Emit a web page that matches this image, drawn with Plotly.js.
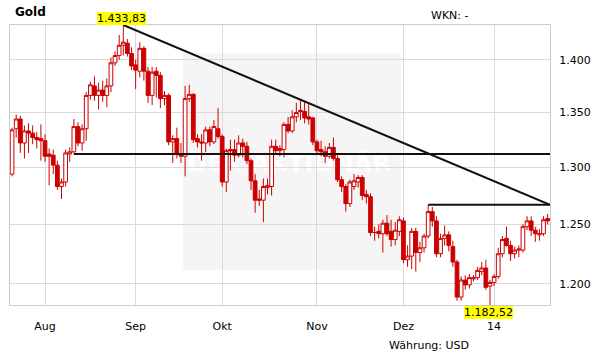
<!DOCTYPE html>
<html>
<head>
<meta charset="utf-8">
<script src="https://cdn.plot.ly/plotly-3.0.1.min.js"></script>
<style>html,body{margin:0;padding:0;background:#fff;}#chart{width:611px;height:364px;}</style>
</head>
<body>
<div id="chart"></div>
<script>
// Trading days (x categories)
const dates = [
"2013-07-22","2013-07-23","2013-07-24","2013-07-25","2013-07-26","2013-07-29","2013-07-30","2013-07-31",
"2013-08-01","2013-08-02","2013-08-05","2013-08-06","2013-08-07","2013-08-08","2013-08-09","2013-08-12","2013-08-13","2013-08-14","2013-08-15","2013-08-16","2013-08-19","2013-08-20","2013-08-21","2013-08-22","2013-08-23","2013-08-26","2013-08-27","2013-08-28","2013-08-29","2013-08-30",
"2013-09-02","2013-09-03","2013-09-04","2013-09-05","2013-09-06","2013-09-09","2013-09-10","2013-09-11","2013-09-12","2013-09-13","2013-09-16","2013-09-17","2013-09-18","2013-09-19","2013-09-20","2013-09-23","2013-09-24","2013-09-25","2013-09-26","2013-09-27","2013-09-30",
"2013-10-01","2013-10-02","2013-10-03","2013-10-04","2013-10-07","2013-10-08","2013-10-09","2013-10-10","2013-10-11","2013-10-14","2013-10-15","2013-10-16","2013-10-17","2013-10-18","2013-10-21","2013-10-22","2013-10-23","2013-10-24","2013-10-25","2013-10-28","2013-10-29","2013-10-30","2013-10-31",
"2013-11-01","2013-11-04","2013-11-05","2013-11-06","2013-11-07","2013-11-08","2013-11-11","2013-11-12","2013-11-13","2013-11-14","2013-11-15","2013-11-18","2013-11-19","2013-11-20","2013-11-21","2013-11-22","2013-11-25","2013-11-26","2013-11-27","2013-11-28","2013-11-29",
"2013-12-02","2013-12-03","2013-12-04","2013-12-05","2013-12-06","2013-12-09","2013-12-10","2013-12-11","2013-12-12","2013-12-13","2013-12-16","2013-12-17","2013-12-18","2013-12-19","2013-12-20","2013-12-23","2013-12-24","2013-12-25","2013-12-26","2013-12-27","2013-12-30","2013-12-31",
"2014-01-01","2014-01-02","2014-01-03","2014-01-06","2014-01-07","2014-01-08","2014-01-09","2014-01-10","2014-01-13","2014-01-14","2014-01-15","2014-01-16","2014-01-17","2014-01-20"
];

const openP = [1294,1335,1344,1322,1333,1331,1327,1326,
1324,1312,1311,1302,1283,1287,1312,1314,1337,1322,1335,1366,1375,1366,1371,1366,1375,1397,1404,1414,1416,1406,
1395,1389,1411,1389,1366,1389,1385,1363,1366,1323,1326,1312,1310,1363,1367,1326,1323,1322,1334,1323,1335,
1328,1287,1316,1316,1311,1322,1319,1306,1288,1272,1271,1282,1283,1319,1315,1316,1339,1333,1346,1352,1351,1346,1345,
1323,1316,1314,1310,1318,1308,1289,1283,1268,1283,1287,1291,1276,1274,1243,1244,1242,1251,1244,1237,1244,
1253,1220,1223,1244,1226,1230,1240,1261,1253,1225,1238,1241,1231,1218,1189,1203,1199,1204,1205,1210,1213,1198,
1201,1206,1225,1238,1232,1225,1228,1228,1248,1253,1245,1241,1242,1255];

const highP = [1336,1348,1347,1338,1340,1338,1332,1339,
1330,1317,1316,1306,1290,1316,1318,1344,1341,1339,1369,1379,1384,1378,1380,1382,1402,1408,1424,1433.83,1420,1412,
1400,1417,1413,1393,1393,1393,1388,1370,1368,1329,1336,1322,1375,1376,1368,1330,1330,1337,1337,1343,1354,
1330,1317,1325,1325,1329,1326,1323,1308,1294,1280,1290,1290,1325,1325,1320,1341,1346,1352,1359,1362,1360,1359,1346,
1325,1324,1319,1322,1327,1311,1292,1285,1289,1294,1293,1293,1280,1277,1248,1250,1254,1258,1254,1252,1257,
1256,1232,1247,1247,1235,1242,1267,1265,1257,1242,1249,1244,1236,1220,1206,1207,1208,1207,1214,1218,1220,1203,
1208,1230,1240,1248,1236,1231,1232,1250,1257,1257,1248,1246,1257,1259];

const lowP = [1292,1327,1313,1308,1313,1321,1317,1306,
1305,1284,1294,1280,1272,1283,1305,1313,1319,1315,1324,1362,1361,1353,1360,1355,1369,1394,1400,1404,1403,1390,
1372,1383,1380,1359,1357,1364,1354,1357,1320,1304,1308,1304,1292,1360,1322,1318,1306,1314,1319,1321,1326,
1283,1278,1297,1305,1309,1309,1303,1280,1260,1266,1252,1276,1275,1312,1310,1309,1331,1331,1341,1343,1340,1339,1320,
1312,1310,1304,1308,1306,1287,1278,1261,1265,1280,1282,1271,1268,1240,1236,1238,1226,1240,1231,1232,1240,
1217,1214,1212,1210,1218,1226,1238,1248,1222,1222,1232,1227,1214,1186,1186,1195,1196,1202,1203,1207,1195,1182.52,
1198,1204,1222,1231,1219,1221,1222,1226,1245,1240,1235,1236,1240,1250];

const closeP = [1334,1344,1322,1333,1331,1327,1325,1324,
1310,1310,1302,1283,1287,1313,1314,1337,1322,1335,1366,1376,1366,1371,1366,1375,1397,1404,1414,1417,1406,1394,
1390,1411,1389,1366,1388,1385,1363,1366,1323,1326,1312,1310,1363,1367,1325,1323,1322,1334,1323,1337,1328,
1287,1315,1315,1311,1322,1319,1306,1288,1271,1271,1283,1284,1319,1315,1317,1339,1333,1346,1350,1351,1345,1344,1323,
1315,1314,1310,1318,1308,1289,1283,1268,1287,1288,1291,1275,1274,1243,1243,1242,1251,1242,1237,1245,1254,
1220,1223,1244,1226,1230,1240,1261,1253,1225,1238,1241,1232,1218,1189,1203,1199,1205,1205,1211,1213,1197,1201,
1206,1225,1237,1232,1225,1228,1229,1248,1253,1245,1242,1242,1254,1253];

const monthLabels = ["Aug","Sep","Okt","Nov","Dez","14"];
const supportLevel = 1312;        // long horizontal line
const supportStart = "2013-08-12";
const resistStart = "2013-12-10"; // short horizontal line from that day's high
const trendStart = "2013-08-28";  // descending trend line from that day's high
const yTicks = [1200,1250,1300,1350,1400];

const idx = dates.map((d, i) => i);
// first trading day of each month after the first
const tickIdx = [];
for (let i = 1; i < dates.length; i++) {
  if (dates[i].slice(0,7) !== dates[i-1].slice(0,7)) tickIdx.push(i);
}
const xMax = dates.length - 1 + 0.57;
const xMin = -0.5;

const hiVal = Math.max(...highP), loVal = Math.min(...lowP);
const hiIdx = highP.indexOf(hiVal), loIdx = lowP.indexOf(loVal);
const rIdx = dates.indexOf(resistStart);
const tIdx = dates.indexOf(trendStart);
const sIdx = dates.indexOf(supportStart);
const red = "#cc0000";
const FONT = "DejaVu Sans, Verdana, sans-serif";

const traces = [
  {
    type: "candlestick", x: idx, open: openP, high: highP, low: lowP, close: closeP,
    increasing: {line: {color: red, width: 1}, fillcolor: "#ffffff"},
    decreasing: {line: {color: red, width: 1}, fillcolor: red},
    whiskerwidth: 0, hoverinfo: "skip", showlegend: false
  },
  {type: "scatter", mode: "lines", x: [sIdx, xMax], y: [supportLevel, supportLevel],
   line: {color: "#111", width: 2}, hoverinfo: "skip", showlegend: false},
  {type: "scatter", mode: "lines", x: [rIdx, xMax], y: [highP[rIdx], highP[rIdx]],
   line: {color: "#111", width: 2}, hoverinfo: "skip", showlegend: false},
  {type: "scatter", mode: "lines", x: [tIdx, xMax], y: [highP[tIdx], highP[rIdx]],
   line: {color: "#111", width: 2}, hoverinfo: "skip", showlegend: false}
];

const wm = "<svg xmlns='http://www.w3.org/2000/svg' width='218' height='217' viewBox='0 0 218 217' preserveAspectRatio='none'>" +
  "<rect width='218' height='217' fill='#f5f5f5'/>" +
  "<text x='4' y='118' font-family='DejaVu Sans' font-weight='bold' font-size='21' fill='#ffffff' textLength='204' lengthAdjust='spacingAndGlyphs'>DER AKTIONÄR</text></svg>";

const layout = {
  width: 611, height: 364,
  margin: {l: 10, r: 61, t: 25, b: 59, pad: 0},
  paper_bgcolor: "#ffffff", plot_bgcolor: "#ffffff",
  separators: ",.",
  showlegend: false,
  boxgap: 0.1, boxgroupgap: 0,
  font: {family: FONT, size: 11, color: "#000"},
  xaxis: {
    type: "linear", range: [xMin, xMax], rangeslider: {visible: false},
    tickvals: tickIdx, ticktext: monthLabels,
    showgrid: true, gridcolor: "#dadada", gridwidth: 1,
    zeroline: false, showline: true, mirror: true, linecolor: "#cccccc", linewidth: 1,
    ticks: "", ticklabelstandoff: 11,
    tickfont: {family: FONT, size: 11, color: "#000"}, fixedrange: true
  },
  yaxis: {
    type: "log", side: "right",
    range: [Math.log10(loVal), Math.log10(hiVal)],
    tickvals: yTicks, tickformat: ",.0f",
    showgrid: true, gridcolor: "#dadada", gridwidth: 1,
    zeroline: false, showline: true, mirror: true, linecolor: "#cccccc", linewidth: 1,
    ticks: "", ticklabelstandoff: 6,
    tickfont: {family: FONT, size: 11, color: "#000"}, fixedrange: true
  },
  images: [{
    source: "data:image/svg+xml;charset=utf-8," + encodeURIComponent(wm),
    xref: "paper", yref: "paper", x: 0.3204, y: 0.9, sizex: 0.4037, sizey: 0.775,
    xanchor: "left", yanchor: "top", sizing: "stretch", layer: "below"
  }],
  annotations: [
    {xref: "paper", yref: "paper", x: 0.005, y: 1.0464, xanchor: "left", yanchor: "middle",
     text: "<b>Gold</b>", showarrow: false, font: {family: FONT, size: 12, color: "#000"}},
    {xref: "paper", yref: "paper", x: 0.776, y: 1.0357, xanchor: "left", yanchor: "middle",
     text: "WKN: -", showarrow: false, font: {family: FONT, size: 11, color: "#000"}},
    {xref: "paper", yref: "paper", x: 0.698, y: -0.1464, xanchor: "left", yanchor: "middle",
     text: "Währung: USD", showarrow: false, font: {family: FONT, size: 11, color: "#000"}},
    {xref: "x", yref: "paper", x: hiIdx, y: 1, xanchor: "center", yanchor: "bottom", xshift: -2,
     text: Plotly.d3 ? "" : "", showarrow: false},
  ]
};

// value labels of extreme points, formatted with German separators
function fmt(v) {
  const s = v.toFixed(2).split(".");
  return s[0].replace(/\B(?=(\d{3})+(?!\d))/g, ".") + "," + s[1];
}
layout.annotations.pop();
layout.annotations.push(
  {xref: "x", yref: "paper", x: hiIdx, y: 1, xanchor: "center", yanchor: "bottom", xshift: -2,
   text: fmt(hiVal), showarrow: false, bgcolor: "#ffff00", borderpad: 0, borderwidth: 0,
   font: {family: FONT, size: 11, color: "#000"}},
  {xref: "x", yref: "paper", x: loIdx, y: 0, xanchor: "center", yanchor: "top", xshift: -1.5, yshift: -1,
   text: fmt(loVal), showarrow: false, bgcolor: "#ffff00", borderpad: 0, borderwidth: 0,
   font: {family: FONT, size: 11, color: "#000"}}
);

Plotly.newPlot("chart", traces, layout, {staticPlot: true, displayModeBar: false});
</script>
</body>
</html>
